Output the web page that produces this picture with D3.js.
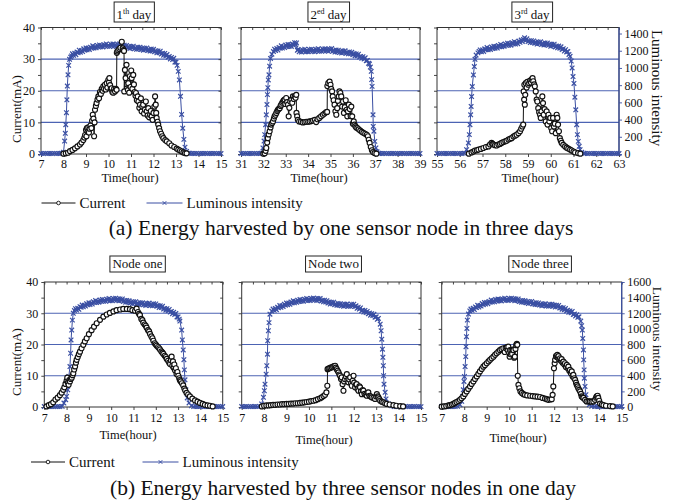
<!DOCTYPE html>
<html><head><meta charset="utf-8">
<script src="https://cdn.jsdelivr.net/npm/d3@7"></script>
<style>
body{margin:0;background:#fff;}
svg{display:block;background:#fff;}
</style></head><body>
<svg id="chart" width="686" height="503"></svg>
<script>
// ---------------- DATA ----------------
const day1Ticks = [7,8,9,10,11,12,13,14,15];
const day2Ticks = [31,32,33,34,35,36,37,38,39];
const day3Ticks = [55,56,57,58,59,60,61,62,63];
const nodeTicks = [7,8,9,10,11,12,13,14,15];
const currentTicks = [0,10,20,30,40];
const luxTicksTop = [0,200,400,600,800,1000,1200,1400];
const luxTicksBottom = [0,200,400,600,800,1000,1200,1400,1600];
const dayTitleNum = ["1","2","3"];
const dayTitleSup = ["th","ed","rd"];
const nodeTitles = ["Node one","Node two","Node three"];
const seriesNames = ["Current","Luminous intensity"];
const captions = ["(a) Energy harvested by one sensor node in three days","(b) Energy harvested by three sensor nodes in one day"];

// Day 1 (hours 7-15) luminous intensity
const day1Lux = [[7.0,6],[7.1,5],[7.2,7],[7.3,5],[7.4,6],[7.5,5],[7.6,7],[7.7,5],[7.8,6],[7.9,8],
 [8.0,20],[8.05,150],[8.08,240],[8.1,340],[8.13,480],[8.15,630],[8.17,790],[8.2,920],[8.23,1030],[8.27,1100],[8.32,1125],[8.36,1140],
 [8.40,1164],[8.45,1147],[8.50,1170],[8.55,1154],[8.60,1185],[8.65,1177],[8.70,1207],[8.75,1183],[8.80,1202],[8.85,1191],[8.90,1222],[8.95,1206],
 [9.00,1232],[9.05,1211],[9.10,1231],[9.15,1213],[9.20,1242],[9.25,1230],[9.30,1257],[9.35,1231],[9.40,1247],[9.45,1234],[9.50,1262],[9.55,1244],
 [9.60,1268],[9.65,1245],[9.70,1262],[9.75,1243],[9.80,1270],[9.85,1255],[9.90,1279],[9.95,1251],[10.00,1265],[10.05,1250],[10.10,1276],[10.15,1257],
 [10.20,1279],[10.25,1255],[10.30,1271],[10.35,1250],[10.40,1276],[10.45,1259],[10.50,1281],[10.55,1249],[10.60,1260],[10.65,1241],[10.70,1264],[10.75,1242],
 [10.80,1262],[10.85,1235],[10.90,1249],[10.95,1226],[11.00,1250],[11.05,1232],[11.10,1253],[11.15,1222],[11.20,1235],[11.25,1217],[11.30,1242],[11.35,1220],
 [11.40,1241],[11.45,1214],[11.50,1229],[11.55,1206],[11.60,1230],[11.65,1212],[11.70,1233],[11.75,1202],[11.80,1214],[11.85,1196],[11.90,1220],[11.95,1197],
 [12.00,1217],[12.05,1189],[12.10,1201],[12.15,1176],[12.20,1198],[12.25,1177],[12.30,1195],[12.35,1161],[12.40,1170],[12.45,1148],[12.50,1168],[12.55,1141],
 [12.60,1156],[12.65,1124],[12.70,1133],[12.75,1104],[12.80,1122],[12.85,1098],[12.90,1112],[12.95,1068],[13.00,1067],[13.05,1030],
 [13.1,960],[13.15,860],[13.2,670],[13.25,460],[13.3,300],[13.35,170],[13.4,80],[13.47,30],[13.55,10],
 [13.6,8],[13.7,6],[13.8,5],[13.9,7],[14.0,5],[14.1,6],[14.2,5],[14.3,7],[14.4,5],[14.5,6],[14.6,5],[14.7,7],[14.8,5],[14.9,6],[15.0,5]];
const day1Current = [[8.0,0.1],[8.1,0.2],[8.2,0.4],[8.29,0.9],[8.4,1.3],[8.51,1.8],[8.62,2.4],[8.73,3.0],[8.8,3.6],[8.88,4.4],[8.93,5.2],[8.96,6.0],[9.0,7.6],[9.02,5.6],[9.04,8.2],[9.07,7.0],[9.1,8.4],[9.13,6.8],[9.16,8.0],[9.2,9.0],[9.24,8.2],[9.27,10.5],[9.3,12.4],[9.33,11.2],[9.36,5.6],[9.38,10.0],[9.4,14.0],[9.44,15.2],[9.47,16.1],[9.51,17.2],[9.55,18.2],[9.58,17.6],[9.62,19.6],[9.66,19.0],[9.7,20.6],[9.74,20.0],[9.77,21.4],[9.8,20.6],[9.84,21.9],[9.88,20.4],[9.92,22.4],[9.95,21.0],[9.99,23.4],[10.02,22.6],[10.04,24.0],[10.07,21.8],[10.1,20.6],[10.14,20.8],[10.17,19.6],[10.21,19.4],[10.25,20.6],[10.29,19.8],[10.33,20.6],[10.36,20.3],[10.37,32.0],[10.39,32.4],[10.43,32.8],[10.48,33.2],[10.53,33.6],[10.59,35.5],[10.63,33.4],[10.66,32.9],[10.69,32.6],[10.7,19.8],[10.73,26.6],[10.76,24.0],[10.8,28.2],[10.83,22.0],[10.86,20.2],[10.88,22.4],[10.92,19.4],[10.95,24.6],[10.98,21.2],[11.01,26.4],[11.03,24.0],[11.06,20.6],[11.1,25.0],[11.13,22.0],[11.16,19.6],[11.2,18.4],[11.22,19.3],[11.26,17.0],[11.3,18.2],[11.33,16.6],[11.37,14.6],[11.4,15.6],[11.44,17.6],[11.47,13.5],[11.5,15.0],[11.54,15.6],[11.58,12.8],[11.62,14.0],[11.66,16.6],[11.7,13.5],[11.74,12.2],[11.77,14.5],[11.81,11.6],[11.85,12.4],[11.88,13.6],[11.92,11.9],[11.96,10.8],[12.0,13.0],[12.04,15.0],[12.07,18.2],[12.1,15.6],[12.12,13.0],[12.14,11.4],[12.18,10.2],[12.21,9.3],[12.25,8.2],[12.29,7.2],[12.34,6.4],[12.39,5.6],[12.44,5.0],[12.52,4.4],[12.59,4.0],[12.7,3.4],[12.8,2.7],[12.92,2.2],[13.03,1.7],[13.1,1.4],[13.18,1.1],[13.25,0.8],[13.33,0.5],[13.4,0.3],[13.47,0.2]];

// Day 2 (hours 31-39)
const day2Lux = [[31.0,6],[31.1,5],[31.2,7],[31.3,5],[31.4,6],[31.5,5],[31.6,7],[31.7,5],[31.8,6],[31.9,8],
 [31.98,70],[32.03,150],[32.06,225],[32.1,340],[32.13,455],[32.16,575],[32.18,690],[32.2,770],[32.22,860],[32.25,920],[32.28,1020],[32.32,1110],[32.38,1160],[32.45,1190],
 [32.50,1219],[32.55,1202],[32.60,1225],[32.65,1208],[32.70,1238],[32.75,1228],[32.80,1257],[32.85,1231],[32.90,1248],[32.95,1236],[33.00,1266],[33.05,1248],
 [33.10,1272],[33.15,1250],[33.20,1269],[33.25,1250],[33.30,1278],[33.35,1266],[33.40,1293],[33.45,1268],[33.48,1290],[33.52,1205],
 [33.55,1214],[33.60,1187],[33.65,1204],[33.70,1184],[33.75,1210],[33.80,1194],[33.85,1218],[33.90,1189],[33.95,1204],[34.00,1188],[34.05,1215],[34.10,1195],
 [34.15,1218],[34.20,1193],[34.25,1210],[34.30,1189],[34.35,1216],[34.40,1200],[34.45,1224],[34.50,1195],[34.55,1210],[34.60,1194],[34.65,1221],[34.70,1201],
 [34.75,1223],[34.80,1199],[34.85,1215],[34.90,1194],[34.95,1220],[35.00,1204],[35.05,1225],[35.10,1194],[35.15,1204],[35.20,1184],[35.25,1208],[35.30,1186],
 [35.35,1206],[35.40,1179],[35.45,1194],[35.50,1172],[35.55,1196],[35.60,1178],[35.65,1200],[35.70,1170],[35.75,1182],[35.80,1164],[35.85,1187],[35.90,1164],
 [35.95,1182],[36.00,1154],[36.05,1167],[36.10,1142],[36.15,1163],[36.20,1142],[36.25,1160],[36.30,1126],[36.35,1134],[36.40,1112],[36.45,1131],[36.50,1104],
 [36.55,1118],[36.60,1084],[36.65,1088],[36.70,1054],[36.74,1045],
 [36.78,1010],[36.82,960],[36.84,864],[36.86,786],[36.9,456],[36.91,320],[36.94,265],[36.98,147],[37.03,70],[37.08,25],[37.15,8],
 [37.2,6],[37.3,5],[37.4,7],[37.5,5],[37.6,6],[37.7,5],[37.8,7],[37.9,5],[38.0,6],[38.1,5],[38.2,7],[38.3,5],[38.4,6],[38.5,5],[38.6,7],[38.7,5],[38.8,6],[38.9,5],[39.0,6]];
const day2Current = [[32.0,0.1],[32.06,0.2],[32.1,1.0],[32.13,1.9],[32.17,3.6],[32.2,5.0],[32.24,6.2],[32.28,7.2],[32.32,8.4],[32.35,9.3],[32.39,9.8],[32.43,10.3],[32.47,11.2],[32.5,11.9],[32.54,12.4],[32.58,13.0],[32.62,13.6],[32.65,14.0],[32.69,14.3],[32.73,14.5],[32.77,15.2],[32.8,15.6],[32.84,16.2],[32.88,16.6],[32.91,17.0],[32.95,17.2],[32.98,15.8],[33.02,17.7],[33.06,16.4],[33.1,15.6],[33.13,11.9],[33.16,14.6],[33.2,16.6],[33.25,17.2],[33.29,16.2],[33.32,18.2],[33.36,17.4],[33.4,18.2],[33.44,17.8],[33.47,18.7],[33.48,13.0],[33.51,11.9],[33.54,10.8],[33.6,10.3],[33.68,10.2],[33.76,10.0],[33.84,10.1],[33.92,10.2],[34.0,10.2],[34.07,10.3],[34.15,10.4],[34.22,10.6],[34.3,10.8],[34.36,10.1],[34.42,11.0],[34.5,11.4],[34.58,11.9],[34.66,12.4],[34.73,12.8],[34.8,13.2],[34.85,13.3],[34.86,21.5],[34.9,22.4],[34.96,22.9],[35.0,21.9],[35.03,20.6],[35.07,19.8],[35.1,18.2],[35.14,17.0],[35.18,15.6],[35.22,13.5],[35.26,12.4],[35.3,14.5],[35.33,16.8],[35.37,18.2],[35.4,19.8],[35.44,19.3],[35.48,18.2],[35.52,15.0],[35.56,16.6],[35.6,13.0],[35.64,14.8],[35.68,17.0],[35.72,14.0],[35.75,11.9],[35.78,13.5],[35.82,15.6],[35.86,14.2],[35.9,12.0],[35.93,15.0],[35.97,11.9],[36.0,9.6],[36.04,10.3],[36.07,9.3],[36.11,8.8],[36.15,8.4],[36.2,8.2],[36.26,7.8],[36.33,7.4],[36.4,7.0],[36.47,6.7],[36.55,6.4],[36.62,6.1],[36.67,5.6],[36.71,4.5],[36.75,3.5],[36.8,2.2],[36.85,1.2],[36.9,0.6],[36.97,0.3],[37.05,0.1]];

// Day 3 (hours 55-63)
const day3Lux = [[55.0,6],[55.1,5],[55.2,7],[55.3,5],[55.4,6],[55.5,5],[55.6,7],[55.7,5],[55.8,6],[55.9,5],[56.0,7],[56.1,5],[56.2,8],
 [56.3,50],[56.38,128],[56.42,225],[56.45,340],[56.48,456],[56.5,552],[56.52,668],[56.55,784],[56.6,919],[56.64,1016],[56.67,1100],[56.72,1150],[56.8,1175],[56.85,1192],
 [56.90,1209],[56.95,1189],[57.00,1210],[57.05,1192],[57.10,1222],[57.15,1210],[57.20,1237],[57.25,1211],[57.30,1228],[57.35,1215],[57.40,1244],[57.45,1227],
 [57.50,1252],[57.55,1230],[57.60,1249],[57.65,1231],[57.70,1260],[57.75,1247],[57.80,1273],[57.85,1247],[57.90,1264],[57.95,1251],[58.00,1280],[58.05,1262],
 [58.10,1287],[58.15,1264],[58.20,1283],[58.25,1264],[58.30,1293],[58.35,1279],[58.40,1305],[58.45,1278],[58.50,1295],[58.55,1282],[58.60,1312],[58.65,1297],
 [58.70,1324],[58.75,1306],[58.80,1330],[58.85,1350],[58.90,1319],[58.95,1339],[59.00,1306],[59.05,1315],[59.10,1294],[59.15,1317],[59.20,1294],[59.25,1314],
 [59.30,1286],[59.35,1300],[59.40,1277],[59.45,1301],[59.50,1283],[59.55,1304],[59.60,1273],[59.65,1285],[59.70,1267],[59.75,1291],[59.80,1269],[59.85,1289],
 [59.90,1262],[59.95,1276],[60.00,1252],[60.05,1275],[60.10,1256],[60.15,1276],[60.20,1244],[60.25,1254],[60.30,1234],[60.35,1255],[60.40,1230],[60.45,1246],
 [60.50,1215],[60.55,1224],[60.60,1196],[60.65,1212],[60.70,1186],[60.75,1190],[60.80,1157],[60.85,1135],
 [60.9,1080],[60.94,1000],[60.98,900],[61.02,820],[61.06,660],[61.1,514],[61.14,340],[61.17,225],[61.21,147],[61.25,90],[61.29,51],[61.36,20],[61.45,8],
 [61.5,6],[61.6,5],[61.7,7],[61.8,5],[61.9,6],[62.0,5],[62.1,7],[62.2,5],[62.3,6],[62.4,5],[62.5,7],[62.6,5],[62.7,6],[62.8,5],[62.9,6],[63.0,5]];
const day3Current = [[56.4,0.1],[56.52,0.5],[56.6,0.8],[56.67,1.1],[56.75,1.2],[56.82,1.4],[56.93,1.6],[57.04,1.9],[57.15,2.2],[57.26,2.4],[57.33,3.0],[57.4,3.5],[57.44,3.2],[57.48,3.0],[57.55,2.8],[57.62,2.7],[57.7,3.0],[57.77,3.2],[57.84,3.5],[57.92,3.8],[58.0,4.0],[58.06,4.2],[58.14,4.6],[58.21,4.8],[58.28,5.0],[58.36,5.5],[58.43,5.8],[58.5,6.1],[58.58,6.6],[58.65,7.2],[58.7,8.0],[58.75,8.7],[58.79,9.3],[58.81,19.8],[58.83,17.2],[58.84,21.9],[58.86,15.6],[58.88,18.7],[58.9,22.4],[58.94,21.0],[58.97,22.8],[59.01,21.9],[59.05,22.4],[59.09,23.2],[59.13,22.6],[59.16,23.5],[59.2,24.0],[59.23,23.0],[59.27,22.0],[59.3,21.4],[59.34,19.8],[59.38,17.2],[59.41,16.6],[59.45,14.5],[59.49,13.2],[59.53,12.4],[59.56,11.4],[59.59,13.5],[59.63,18.2],[59.66,16.1],[59.69,12.4],[59.73,14.2],[59.78,10.3],[59.82,13.5],[59.86,9.3],[59.9,12.4],[59.94,10.3],[59.98,11.4],[60.02,8.2],[60.06,7.2],[60.1,11.4],[60.14,8.7],[60.18,9.6],[60.22,6.6],[60.26,12.4],[60.29,11.4],[60.32,9.3],[60.36,7.2],[60.4,5.0],[60.44,4.2],[60.48,3.5],[60.55,2.9],[60.63,2.4],[60.7,2.0],[60.77,1.7],[60.85,1.4],[60.92,1.1],[61.0,0.8],[61.07,0.5],[61.2,0.3],[61.3,0.1]];

// Node one (hours 7-15)
const node1Lux = [[7.0,6],[7.1,5],[7.2,7],[7.3,5],[7.4,6],[7.5,5],[7.6,7],[7.7,5],[7.8,8],
 [7.88,51],[7.96,93],[8.0,136],[8.05,220],[8.08,305],[8.1,392],[8.15,518],[8.18,688],[8.2,858],[8.23,985],[8.26,1112],[8.3,1200],[8.35,1235],
 [8.40,1259],[8.45,1241],[8.50,1263],[8.55,1251],[8.60,1285],[8.65,1276],[8.70,1305],[8.75,1282],[8.80,1302],[8.85,1291],[8.90,1322],[8.95,1307],
 [9.00,1334],[9.05,1313],[9.10,1333],[9.15,1317],[9.20,1348],[9.25,1336],[9.30,1362],[9.35,1337],[9.40,1354],[9.45,1341],[9.50,1370],[9.55,1352],
 [9.60,1376],[9.65,1353],[9.70,1371],[9.75,1352],[9.80,1380],[9.85,1365],[9.90,1389],[9.95,1361],[10.00,1376],[10.05,1361],[10.10,1388],[10.15,1369],
 [10.20,1392],[10.25,1367],[10.30,1383],[10.35,1360],[10.40,1384],[10.45,1364],[10.50,1383],[10.55,1351],[10.60,1362],[10.65,1342],[10.70,1364],[10.75,1341],
 [10.80,1360],[10.85,1332],[10.90,1345],[10.95,1322],[11.00,1346],[11.05,1328],[11.10,1349],[11.15,1318],[11.20,1330],[11.25,1312],[11.30,1336],[11.35,1314],
 [11.40,1334],[11.45,1307],[11.50,1322],[11.55,1300],[11.60,1325],[11.65,1308],[11.70,1330],[11.75,1300],[11.80,1313],[11.85,1296],[11.90,1321],[11.95,1300],
 [12.00,1320],[12.05,1290],[12.10,1301],[12.15,1274],[12.20,1295],[12.25,1272],[12.30,1289],[12.35,1254],[12.40,1262],[12.45,1239],[12.50,1258],[12.55,1232],
 [12.60,1248],[12.65,1215],[12.70,1223],[12.75,1194],[12.80,1212],[12.85,1185],[12.90,1197],[12.95,1153],[13.00,1152],[13.05,1125],
 [13.08,1100],[13.16,985],[13.19,858],[13.23,730],[13.26,605],[13.28,475],[13.31,348],[13.35,220],[13.41,116],[13.49,52],[13.6,16],
 [13.7,5],[13.8,7],[13.9,5],[14.0,6],[14.1,5],[14.2,7],[14.3,5],[14.4,6],[14.5,5],[14.6,7],[14.7,5],[14.8,6],[14.9,5],[15.0,6]];
const node1Current = [[7.1,0.2],[7.2,0.6],[7.3,0.9],[7.4,1.5],[7.5,2.4],[7.6,3.0],[7.7,3.8],[7.78,4.6],[7.85,5.5],[7.9,6.3],[7.95,7.4],[8.0,8.4],[8.03,9.4],[8.06,7.8],[8.09,7.1],[8.12,8.6],[8.15,8.2],[8.19,9.0],[8.23,9.4],[8.27,10.2],[8.3,10.8],[8.34,12.0],[8.38,13.0],[8.42,14.2],[8.45,15.1],[8.5,16.0],[8.55,16.9],[8.6,17.7],[8.67,18.8],[8.75,19.9],[8.82,21.0],[8.9,22.0],[9.0,23.3],[9.12,24.6],[9.23,25.7],[9.35,26.8],[9.5,27.9],[9.65,28.9],[9.8,29.6],[9.94,30.1],[10.1,30.6],[10.24,31.0],[10.4,31.2],[10.54,31.4],[10.7,31.4],[10.84,31.3],[10.95,31.0],[11.07,30.8],[11.14,31.5],[11.2,30.4],[11.25,29.8],[11.29,29.4],[11.35,28.2],[11.4,27.8],[11.44,27.0],[11.5,26.4],[11.55,26.0],[11.59,25.4],[11.65,24.6],[11.7,24.2],[11.74,23.4],[11.8,22.6],[11.85,22.0],[11.89,21.2],[11.95,20.4],[12.0,20.0],[12.04,19.6],[12.1,19.2],[12.15,18.8],[12.19,18.4],[12.25,17.8],[12.3,17.4],[12.34,17.0],[12.4,16.4],[12.45,16.0],[12.49,15.4],[12.55,14.8],[12.6,14.2],[12.64,13.8],[12.68,15.0],[12.71,16.1],[12.74,13.2],[12.77,14.6],[12.8,12.6],[12.83,13.6],[12.86,11.8],[12.9,12.4],[12.93,10.6],[12.97,11.2],[13.01,10.0],[13.05,9.2],[13.08,8.6],[13.12,8.2],[13.17,7.6],[13.23,6.9],[13.28,5.9],[13.32,5.3],[13.38,4.5],[13.45,4.0],[13.53,3.4],[13.64,2.7],[13.76,2.1],[13.87,1.7],[13.98,1.3],[14.1,1.0],[14.2,0.7],[14.32,0.5],[14.43,0.4],[14.55,0.2]];

// Node two (hours 7-15)
const node2Lux = [[7.0,6],[7.1,5],[7.2,7],[7.3,5],[7.4,6],[7.5,5],[7.6,7],[7.7,5],[7.8,8],
 [7.89,40],[7.97,124],[8.01,208],[8.04,292],[8.09,420],[8.12,528],[8.15,676],[8.16,848],[8.19,976],[8.22,1080],[8.26,1188],[8.34,1228],
 [8.40,1254],[8.45,1237],[8.50,1260],[8.55,1246],[8.60,1278],[8.65,1269],[8.70,1299],[8.75,1276],[8.80,1296],[8.85,1286],[8.90,1317],[8.95,1303],
 [9.00,1330],[9.05,1310],[9.10,1331],[9.15,1314],[9.20,1344],[9.25,1332],[9.30,1359],[9.35,1334],[9.40,1352],[9.45,1339],[9.50,1368],[9.55,1351],
 [9.60,1375],[9.65,1353],[9.70,1371],[9.75,1352],[9.80,1380],[9.85,1366],[9.90,1390],[9.95,1363],[10.00,1378],[10.05,1363],[10.10,1390],[10.15,1371],
 [10.20,1394],[10.25,1369],[10.30,1385],[10.35,1363],[10.40,1388],[10.45,1369],[10.50,1389],[10.55,1356],[10.60,1366],[10.65,1346],[10.70,1368],[10.75,1343],
 [10.80,1360],[10.85,1331],[10.90,1343],[10.95,1318],[11.00,1340],[11.05,1321],[11.10,1341],[11.15,1309],[11.20,1320],[11.25,1302],[11.30,1325],[11.35,1303],
 [11.40,1323],[11.45,1297],[11.50,1311],[11.55,1289],[11.60,1314],[11.65,1297],[11.70,1320],[11.75,1290],[11.80,1304],[11.85,1288],[11.90,1315],[11.95,1294],
 [12.00,1316],[12.05,1285],[12.10,1295],[12.15,1263],[12.20,1278],[12.25,1254],[12.30,1269],[12.35,1232],[12.40,1238],[12.45,1216],[12.50,1236],[12.55,1209],
 [12.60,1224],[12.65,1193],[12.70,1203],[12.75,1175],[12.80,1194],[12.85,1171],[12.90,1187],[12.95,1149],[13.00,1154],[13.05,1123],[13.10,1134],
 [13.18,1060],[13.22,976],[13.25,868],[13.28,740],[13.3,636],[13.32,528],[13.33,400],[13.35,292],[13.4,188],[13.44,104],[13.55,40],[13.7,16],
 [13.8,5],[13.9,7],[14.0,5],[14.1,6],[14.2,5],[14.3,7],[14.4,5],[14.5,6],[14.6,5],[14.7,7],[14.8,5],[14.9,6],[15.0,5]];
const node2Current = [[7.9,0.2],[8.0,0.4],[8.1,0.5],[8.2,0.5],[8.3,0.6],[8.4,0.7],[8.5,0.7],[8.6,0.8],[8.7,0.8],[8.8,0.9],[8.9,0.9],[9.0,1.0],[9.1,1.0],[9.2,1.1],[9.3,1.1],[9.4,1.2],[9.5,1.2],[9.6,1.3],[9.7,1.4],[9.8,1.5],[9.9,1.6],[10.0,1.7],[10.1,1.9],[10.2,2.0],[10.3,2.2],[10.4,2.5],[10.5,2.8],[10.57,3.1],[10.65,3.5],[10.72,3.9],[10.78,4.7],[10.82,6.8],[10.83,12.1],[10.87,12.3],[10.91,12.4],[10.96,12.6],[11.02,12.7],[11.08,12.9],[11.13,13.1],[11.17,13.2],[11.2,12.6],[11.24,12.1],[11.28,11.6],[11.32,11.1],[11.36,10.4],[11.39,10.0],[11.43,9.0],[11.46,9.5],[11.5,7.3],[11.54,5.2],[11.57,8.2],[11.61,8.9],[11.65,9.8],[11.69,10.5],[11.72,8.6],[11.76,7.9],[11.8,8.8],[11.84,9.5],[11.88,7.6],[11.91,6.8],[11.95,8.4],[11.99,10.0],[12.02,7.8],[12.06,6.3],[12.1,7.2],[12.13,7.3],[12.17,5.8],[12.21,5.2],[12.25,6.6],[12.28,6.3],[12.32,5.0],[12.36,4.1],[12.4,5.4],[12.43,5.2],[12.48,4.2],[12.53,3.9],[12.58,3.6],[12.62,4.5],[12.65,4.7],[12.7,3.6],[12.75,3.4],[12.8,3.1],[12.88,2.9],[12.95,2.6],[13.0,3.4],[13.03,4.1],[13.07,3.4],[13.1,3.1],[13.14,2.5],[13.18,2.0],[13.25,1.7],[13.32,1.5],[13.4,1.2],[13.47,1.0],[13.6,0.8],[13.77,0.6],[13.9,0.4],[14.07,0.3],[14.2,0.2]];

// Node three (hours 7-15)
const node3Lux = [[7.0,6],[7.1,5],[7.2,7],[7.3,5],[7.4,6],[7.5,5],[7.6,7],[7.7,8],
 [7.81,30],[7.89,72],[7.93,136],[7.96,220],[7.99,327],[8.01,390],[8.04,518],[8.07,645],[8.08,772],[8.1,900],[8.12,1006],[8.14,1112],[8.19,1190],[8.25,1230],
 [8.30,1254],[8.35,1238],[8.40,1263],[8.45,1248],[8.50,1280],[8.55,1272],[8.60,1302],[8.65,1280],[8.70,1300],[8.75,1291],[8.80,1324],[8.85,1310],
 [8.90,1337],[8.95,1318],[9.00,1339],[9.05,1322],[9.10,1352],[9.15,1341],[9.20,1369],[9.25,1343],[9.30,1360],[9.35,1347],[9.40,1376],[9.45,1358],
 [9.50,1382],[9.55,1359],[9.60,1377],[9.65,1357],[9.70,1384],[9.75,1369],[9.80,1393],[9.85,1365],[9.90,1379],[9.95,1364],[10.00,1390],[10.05,1371],
 [10.10,1393],[10.15,1369],[10.20,1385],[10.25,1361],[10.30,1384],[10.35,1364],[10.40,1383],[10.45,1350],[10.50,1360],[10.55,1341],[10.60,1364],[10.65,1342],
 [10.70,1361],[10.75,1334],[10.80,1348],[10.85,1324],[10.90,1348],[10.95,1330],[11.00,1351],[11.05,1319],[11.10,1330],[11.15,1312],[11.20,1335],[11.25,1313],
 [11.30,1332],[11.35,1305],[11.40,1318],[11.45,1295],[11.50,1319],[11.55,1302],[11.60,1323],[11.65,1293],[11.70,1306],[11.75,1290],[11.80,1315],[11.85,1295],
 [11.90,1316],[11.95,1290],[12.00,1305],[12.05,1280],[12.10,1302],[12.15,1282],[12.20,1301],[12.25,1266],[12.30,1274],[12.35,1252],[12.40,1272],[12.45,1245],
 [12.50,1260],[12.55,1229],[12.60,1239],[12.65,1211],[12.70,1230],[12.75,1207],[12.80,1223],[12.85,1185],[12.90,1190],[12.95,1164],[13.00,1180],[13.05,1148],[13.10,1154],
 [13.18,1100],[13.22,1040],[13.25,985],[13.27,878],[13.3,730],[13.31,603],[13.33,475],[13.34,369],[13.37,263],[13.41,157],[13.47,72],[13.56,30],[13.67,8],
 [13.8,6],[13.9,5],[14.0,7],[14.1,5],[14.2,6],[14.3,5],[14.4,7],[14.5,5],[14.6,6],[14.7,5],[14.8,7],[14.9,5],[15.0,6]];
const node3Current = [[7.0,0.1],[7.1,0.2],[7.2,0.3],[7.3,0.5],[7.37,0.6],[7.45,0.8],[7.52,1.0],[7.59,1.3],[7.66,1.6],[7.74,1.9],[7.81,2.3],[7.88,2.8],[7.96,3.4],[8.03,4.2],[8.11,5.0],[8.18,5.8],[8.26,6.6],[8.33,7.4],[8.41,8.2],[8.48,9.0],[8.56,9.8],[8.63,10.6],[8.7,11.4],[8.78,12.2],[8.85,12.9],[8.92,13.4],[9.0,14.0],[9.08,14.6],[9.15,15.1],[9.22,15.6],[9.3,16.1],[9.37,16.7],[9.44,17.2],[9.52,17.7],[9.59,18.2],[9.66,18.5],[9.74,18.8],[9.8,17.6],[9.84,18.9],[9.89,19.1],[9.93,18.2],[9.96,19.3],[10.0,17.4],[10.02,16.1],[10.04,18.2],[10.07,16.8],[10.1,18.2],[10.13,17.0],[10.16,18.4],[10.19,18.2],[10.22,15.8],[10.25,16.1],[10.28,18.6],[10.31,19.8],[10.34,20.2],[10.36,19.9],[10.38,10.0],[10.41,7.1],[10.45,6.0],[10.5,5.0],[10.56,4.5],[10.63,4.1],[10.7,3.9],[10.8,3.7],[10.93,3.6],[11.04,3.5],[11.15,3.4],[11.26,3.3],[11.37,3.2],[11.48,2.9],[11.59,2.7],[11.67,2.5],[11.74,2.3],[11.82,2.4],[11.89,2.5],[11.93,3.9],[11.96,6.6],[11.99,12.4],[12.02,14.0],[12.04,15.1],[12.08,16.3],[12.11,16.0],[12.14,16.7],[12.17,15.8],[12.19,16.3],[12.23,15.2],[12.26,15.6],[12.3,14.8],[12.33,15.3],[12.37,14.2],[12.41,14.5],[12.45,13.6],[12.48,14.0],[12.52,12.8],[12.56,13.5],[12.6,12.4],[12.63,12.9],[12.67,11.6],[12.7,11.9],[12.74,10.8],[12.78,11.4],[12.82,9.8],[12.85,10.3],[12.89,9.2],[12.93,8.7],[12.97,7.8],[13.0,7.1],[13.04,6.6],[13.07,6.0],[13.11,5.5],[13.15,5.0],[13.19,4.2],[13.22,3.4],[13.26,3.1],[13.3,2.9],[13.37,2.3],[13.44,1.8],[13.52,1.8],[13.59,1.8],[13.66,1.7],[13.74,1.8],[13.81,2.3],[13.86,3.0],[13.89,3.4],[13.93,3.6],[13.96,2.9],[14.0,2.0],[14.04,1.1],[14.12,0.8],[14.19,0.6],[14.3,0.4],[14.48,0.3],[14.6,0.2]];

// ---------------- DRAWING ----------------
const FONT = "'Liberation Serif','Times New Roman',Times,serif";
const BLUE = "#3a4fa3";
const GRID = "#4c63b3";
const svg = d3.select("#chart");

const panels = [
  {x0:41, x1:221, y0:27.5, y1:154, ticks:day1Ticks, luxMax:1470, lux:day1Lux, cur:day1Current, left:true, right:false,
   titleType:"day", ti:0, titleCx:134, tickPad:2.5, timeCx:130, timeY:182},
  {x0:241, x1:420, y0:27.5, y1:154, ticks:day2Ticks, luxMax:1470, lux:day2Lux, cur:day2Current, left:false, right:false,
   titleType:"day", ti:1, titleCx:328.5, tickPad:2.5, timeCx:319, timeY:182},
  {x0:437, x1:619, y0:27.5, y1:154, ticks:day3Ticks, luxMax:1470, lux:day3Lux, cur:day3Current, left:false, right:true, luxTicks:luxTicksTop,
   titleType:"day", ti:2, titleCx:532, tickPad:2.5, timeCx:530, timeY:182, luxLabelY:88, luxLabelSize:15},
  {x0:44.3, x1:222.7, y0:282, y1:407, ticks:nodeTicks, luxMax:1600, lux:node1Lux, cur:node1Current, left:true, right:false,
   titleType:"node", ti:0, titleCx:137.5, tickPad:3, timeCx:128, timeY:439},
  {x0:241.7, x1:421, y0:282, y1:407, ticks:nodeTicks, luxMax:1600, lux:node2Lux, cur:node2Current, left:false, right:false,
   titleType:"node", ti:1, titleCx:333.5, tickPad:3, timeCx:324, timeY:444},
  {x0:441.7, x1:621.7, y0:282, y1:407, ticks:nodeTicks, luxMax:1600, lux:node3Lux, cur:node3Current, left:false, right:true, luxTicks:luxTicksBottom,
   titleType:"node", ti:2, titleCx:540, tickPad:3, timeCx:518, timeY:442, luxLabelY:339, luxLabelSize:13.5}
];

function styleAxis(sel){
  sel.select(".domain").remove();
  sel.selectAll("line").attr("stroke","#333").attr("stroke-width",0.9);
  sel.selectAll("text").attr("font-family",FONT).attr("font-size",12).attr("fill","#111");
}

panels.forEach(p => {
  const x = d3.scaleLinear().domain([p.ticks[0], p.ticks[p.ticks.length-1]]).range([p.x0, p.x1]);
  const y = d3.scaleLinear().domain([0,40]).range([p.y1, p.y0]);
  const yr = d3.scaleLinear().domain([0,p.luxMax]).range([p.y1, p.y0]);
  const g = svg.append("g");

  // panel title with box
  const tg = g.append("g");
  const boxRect = tg.append("rect");
  let t;
  if (p.titleType === "day") {
    t = tg.append("text").attr("x",p.titleCx).attr("y",18.5).attr("text-anchor","middle")
      .attr("font-family",FONT).attr("font-size",13).attr("fill","#111");
    t.append("tspan").text(dayTitleNum[p.ti]);
    t.append("tspan").attr("font-size",8).attr("dy",-5).text(dayTitleSup[p.ti]);
    t.append("tspan").attr("dy",5).text(" day");
  } else {
    t = tg.append("text").attr("x",p.titleCx).attr("y",268.3).attr("text-anchor","middle")
      .attr("font-family",FONT).attr("font-size",13).attr("fill","#111").text(nodeTitles[p.ti]);
  }
  const bb = t.node().getBBox();
  const by0 = p.titleType === "day" ? 2 : 256;
  const bh = p.titleType === "day" ? 20 : 16;
  boxRect.attr("x",bb.x-2.5).attr("y",by0).attr("width",bb.width+5).attr("height",bh)
    .attr("fill","#fff").attr("stroke","#222").attr("stroke-width",1);

  // grid lines at 10, 20, 30 mA
  g.append("g").selectAll("line").data(currentTicks.slice(1,4)).join("line")
    .attr("x1",p.x0).attr("x2",p.x1).attr("y1",d=>y(d)).attr("y2",d=>y(d))
    .attr("stroke",GRID).attr("stroke-width",1.2);

  // frame
  g.append("rect").attr("x",p.x0).attr("y",p.y0).attr("width",p.x1-p.x0).attr("height",p.y1-p.y0)
    .attr("fill","none").attr("stroke","#333").attr("stroke-width",1);

  // bottom axis
  const bx = g.append("g").attr("transform",`translate(0,${p.y1})`)
    .call(d3.axisBottom(x).tickValues(p.ticks).tickSize(3).tickPadding(p.tickPad).tickFormat(d3.format("d")));
  styleAxis(bx);
  // top minor ticks (inward, every half hour)
  const halfTicks = p.ticks.flatMap((t,i)=> i<p.ticks.length-1 ? [t, t+0.5] : [t]);
  const tx = g.append("g").attr("transform",`translate(0,${p.y0})`)
    .call(d3.axisTop(x).tickValues(halfTicks).tickSize(-2.5).tickFormat(""));
  styleAxis(tx);

  // left axis
  const fiveTicks = [0,5,10,15,20,25,30,35,40];
  const lx = g.append("g").attr("transform",`translate(${p.x0},0)`)
    .call(d3.axisLeft(y).tickValues(fiveTicks).tickSize(3).tickPadding(3)
      .tickFormat(d => p.left && currentTicks.includes(d) ? d3.format("d")(d) : ""));
  styleAxis(lx);

  // right axis
  if (p.right) {
    const rx = g.append("g").attr("transform",`translate(${p.x1},0)`)
      .call(d3.axisRight(yr).tickValues(p.luxTicks).tickSize(3).tickPadding(2.5).tickFormat(d3.format("d")));
    styleAxis(rx);
    rx.selectAll("line").attr("stroke",BLUE);
    g.append("line").attr("x1",p.x1).attr("x2",p.x1).attr("y1",p.y0).attr("y2",p.y1)
      .attr("stroke",BLUE).attr("stroke-width",1.2);
    g.append("text").attr("transform",`translate(657,${p.luxLabelY}) rotate(90)`)
      .attr("text-anchor","middle").attr("dominant-baseline","central")
      .attr("font-family",FONT).attr("font-size",p.luxLabelSize).attr("fill","#111")
      .text(seriesNames[1]);
  } else {
    const rx = g.append("g").attr("transform",`translate(${p.x1},0)`)
      .call(d3.axisRight(y).tickValues(fiveTicks).tickSize(-2.5).tickFormat(""));
    styleAxis(rx);
  }

  // luminous intensity line + x markers
  const lineL = d3.line().x(d=>x(d[0])).y(d=>yr(d[1]));
  g.append("path").datum(p.lux).attr("d",lineL).attr("fill","none").attr("stroke",BLUE).attr("stroke-width",1);
  g.append("g").selectAll("path").data(p.lux).join("path")
    .attr("d","M-2.3,-2.3L2.3,2.3M-2.3,2.3L2.3,-2.3")
    .attr("transform",d=>`translate(${x(d[0])},${yr(d[1])})`)
    .attr("stroke",BLUE).attr("stroke-width",1.2).attr("fill","none");

  // current line + circle markers
  const lineC = d3.line().x(d=>x(d[0])).y(d=>y(d[1]));
  g.append("path").datum(p.cur).attr("d",lineC).attr("fill","none").attr("stroke","#111").attr("stroke-width",1);
  g.append("g").selectAll("circle").data(p.cur).join("circle")
    .attr("cx",d=>x(d[0])).attr("cy",d=>y(d[1])).attr("r",2.5)
    .attr("fill","#fff").attr("stroke","#111").attr("stroke-width",1.15);

  // x-axis title
  g.append("text").attr("x",p.timeCx).attr("y",p.timeY).attr("text-anchor","middle")
    .attr("font-family",FONT).attr("font-size",12.5).attr("fill","#111").text("Time(hour)");
});

// y-axis titles (left)
[109, 362].forEach(cy => {
  svg.append("text").attr("transform",`translate(16.5,${cy}) rotate(-90)`)
    .attr("text-anchor","middle").attr("dominant-baseline","central")
    .attr("font-family",FONT).attr("font-size",13).attr("fill","#111").text("Current(mA)");
});

// legends
function legend(lx1, lx2, ly) {
  const g = svg.append("g");
  g.append("line").attr("x1",lx1).attr("x2",lx1+34).attr("y1",ly).attr("y2",ly).attr("stroke","#111").attr("stroke-width",1);
  g.append("circle").attr("cx",lx1+17).attr("cy",ly).attr("r",1.8).attr("fill","#fff").attr("stroke","#111").attr("stroke-width",0.9);
  g.append("text").attr("x",lx1+38).attr("y",ly+5).attr("font-family",FONT).attr("font-size",15).attr("fill","#111").text(seriesNames[0]);
  g.append("line").attr("x1",lx2).attr("x2",lx2+36).attr("y1",ly).attr("y2",ly).attr("stroke",BLUE).attr("stroke-width",1);
  g.append("path").attr("d","M-1.8,-1.8L1.8,1.8M-1.8,1.8L1.8,-1.8").attr("transform",`translate(${lx2+18},${ly})`)
    .attr("stroke",BLUE).attr("stroke-width",1);
  g.append("text").attr("x",lx2+40).attr("y",ly+5).attr("font-family",FONT).attr("font-size",15).attr("fill","#111").text(seriesNames[1]);
}
legend(41.5, 146.5, 203);
legend(31, 142.5, 462);

// captions
[[341, 235], [343, 495]].forEach((c,i) => {
  svg.append("text").attr("x",c[0]).attr("y",c[1]).attr("text-anchor","middle")
    .attr("font-family",FONT).attr("font-size",21.5).attr("fill","#111").text(captions[i]);
});
</script>
</body></html>
